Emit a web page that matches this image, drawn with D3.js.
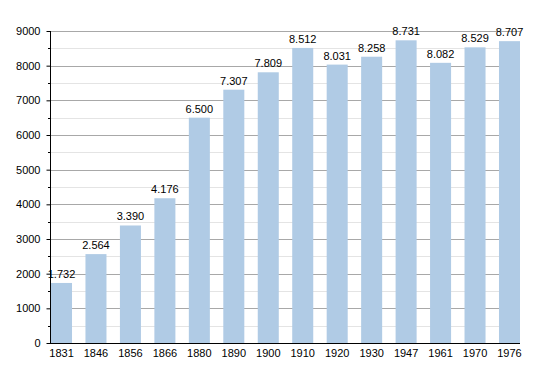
<!DOCTYPE html>
<html><head><meta charset="utf-8">
<script src="https://cdn.jsdelivr.net/npm/d3@7"></script>
<style>body{margin:0;background:#fff}svg{display:block}text{font-family:"Liberation Sans",Arial,sans-serif}</style>
</head><body><svg id="c" width="550" height="373"></svg>
<script>
const years = ["1831","1846","1856","1866","1880","1890","1900","1910","1920","1930","1947","1961","1970","1976"];
const population = [1732,2564,3390,4176,6500,7307,7809,8512,8031,8258,8731,8082,8529,8707];
const yTicks = [0,1000,2000,3000,4000,5000,6000,7000,8000,9000];
const yMinor = [500,1500,2500,3500,4500,5500,6500,7500,8500];

const svg = d3.select("#c");
const x = d3.scaleBand().domain(years).range([51,520]).paddingInner(0.39).paddingOuter(0).align(0);
const y = d3.scaleLinear().domain([0,9000]).range([343,31]);

// minor grid
svg.append("g").selectAll("line").data(yMinor).join("line")
  .attr("x1",51).attr("x2",520).attr("y1",d=>Math.round(y(d))+0.5).attr("y2",d=>Math.round(y(d))+0.5)
  .attr("stroke","#e4e4e4").attr("stroke-width",1);
// major grid
svg.append("g").selectAll("line").data(yTicks.filter(d=>d>0)).join("line")
  .attr("x1",51).attr("x2",520).attr("y1",d=>Math.round(y(d))+0.5).attr("y2",d=>Math.round(y(d))+0.5)
  .attr("stroke","#a8a8a8").attr("stroke-width",1);

// bars
svg.append("g").selectAll("rect").data(population).join("rect")
  .attr("x",(d,i)=>x(years[i])).attr("width",x.bandwidth())
  .attr("y",d=>y(d)).attr("height",d=>y(0)-y(d))
  .attr("fill","#b0cbe5");

// value labels
const fmt = d => d3.format(",")(d).replace(/,/g,".");
svg.append("g").selectAll("text").data(population).join("text")
  .attr("x",(d,i)=>x(years[i])+x.bandwidth()/2).attr("y",d=>y(d)-5)
  .attr("text-anchor","middle").attr("font-size",11).attr("fill","#000")
  .text(fmt);

// y axis
const yAxis = d3.axisLeft(y).tickValues(yTicks).tickSize(4).tickPadding(6).tickFormat(d3.format("d"));
const ga = svg.append("g").attr("transform","translate(50.5,0)").call(yAxis);
ga.select(".domain").attr("stroke","#000").attr("d","M0,31V343.5");
ga.selectAll("text").attr("font-size",11).attr("fill","#000").attr("font-family","Liberation Sans, Arial, sans-serif");
ga.selectAll(".tick line").attr("stroke","#000");
svg.append("g").selectAll("line").data(yMinor).join("line")
  .attr("x1",48).attr("x2",50).attr("y1",d=>Math.round(y(d))+0.5).attr("y2",d=>Math.round(y(d))+0.5)
  .attr("stroke","#000");

// x axis
const xAxis = d3.axisBottom(x).tickSize(0).tickPadding(6);
const gx = svg.append("g").attr("transform","translate(0,343.5)").call(xAxis);
gx.select(".domain").attr("stroke","#000").attr("d","M50,0H520");
gx.selectAll("text").attr("font-size",11).attr("fill","#000").attr("font-family","Liberation Sans, Arial, sans-serif");
</script></body></html>
